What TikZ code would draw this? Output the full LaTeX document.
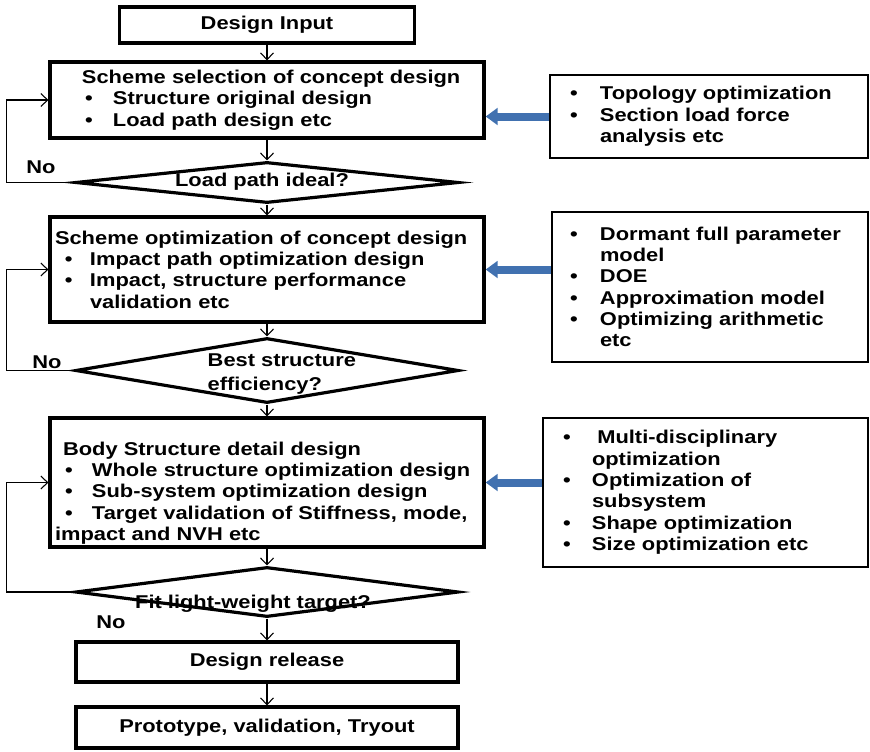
\documentclass[tikz,border=0pt]{standalone}
\usepackage{fontspec}
\setmainfont{Liberation Sans}[FakeStretch=1.18]
\usetikzlibrary{shapes.geometric,arrows.meta}

\definecolor{feedblue}{RGB}{65,113,176}
% bullet line: bullet indent, text indent, text
\newcommand{\bitem}[3]{\hspace*{#1}\makebox[\dimexpr#2-#1\relax][l]{\textbullet}#3}

\begin{document}
\begin{tikzpicture}[x=0.75pt,y=-0.75pt]
\tikzset{every node/.style={font=\fontsize{13.9}{16}\selectfont\bfseries}}
\tikzset{mainbox/.style={draw,line width=2.5pt,inner xsep=0pt,inner ysep=0pt,align=left}}
\tikzset{sidebox/.style={draw,line width=1.9pt,inner xsep=0pt,inner ysep=0pt,align=left}}
\tikzset{endbox/.style={draw,line width=2.5pt,align=center,text width=286.5pt,minimum height=30pt,inner sep=0pt}}
\tikzset{decide/.style={draw,shape=diamond,line width=2.4pt,minimum width=287.25pt,inner sep=0pt}}
\tikzset{flow/.style={line width=0.8pt,-{Straight Barb[length=5pt,width=9.75pt]}}}
\tikzset{feed/.style={feedblue,line width=6pt,-{Triangle[length=9pt,width=12.5pt]}}}
\useasboundingbox (0,0) rectangle (870,751);

% main column
\node[mainbox,text width=221.25pt,minimum height=27pt,align=center] (input) at (267,25) {Design Input};
\node[mainbox,text width=325.5pt,minimum height=57pt] (sel) at (267,100) {%
\hspace*{24pt}Scheme selection of concept design\\
\bitem{26.25pt}{47.25pt}{Structure original design}\\
\bitem{26.25pt}{47.25pt}{Load path design etc}};
\node[decide,minimum height=30.75pt] (d1) at (267,182.5) {};
\node (d1t) at (262,182) {Load path ideal?};
\node[mainbox,text width=325.5pt,minimum height=78.75pt] (opt) at (267,269.5) {%
\hspace*{3.75pt}Scheme optimization of concept design\\
\bitem{11.25pt}{30pt}{Impact path optimization design}\\
\bitem{11.25pt}{30pt}{Impact, structure performance}\\
\hspace*{30pt}validation etc};
\node[decide,minimum height=48.75pt] (d2) at (267,370.5) {};
\node[anchor=west,align=left] (d2t) at (203,374) {Best structure\\[2.5pt]efficiency?};
% taller first line pushes the text block down a little
\node[mainbox,text width=325.5pt,minimum height=96.75pt] (body) at (267,482.5) {%
\rule{0pt}{26pt}\hspace*{9.75pt}Body Structure detail design\\
\bitem{11.25pt}{31.5pt}{Whole structure optimization design}\\
\bitem{11.25pt}{31.5pt}{Sub-system optimization design}\\
\bitem{11.25pt}{31.5pt}{Target validation of Stiffness, mode,}\\
\hspace*{3.75pt}impact and NVH etc};
\node[decide,minimum height=37.5pt] (d3) at (267,592) {};
\node (d3t) at (253,604) {Fit light-weight target?};
\node[endbox] (release) at (267,662) {Design release};
\node[endbox,minimum height=30.75pt] (proto) at (267,727.5) {Prototype, validation, Tryout};

% method boxes
\node[sidebox,text width=238.5pt,minimum height=62.25pt] (topo) at (709,116.5) {%
\bitem{15pt}{37.5pt}{Topology optimization}\\
\bitem{15pt}{37.5pt}{Section load force}\\
\hspace*{37.5pt}analysis etc};
\node[sidebox,text width=237pt,minimum height=112.5pt] (doe) at (710,287) {%
\bitem{13.5pt}{36pt}{Dormant full parameter}\\
\hspace*{36pt}model\\
\bitem{13.5pt}{36pt}{DOE}\\
\bitem{13.5pt}{36pt}{Approximation model}\\
\bitem{13.5pt}{36pt}{Optimizing arithmetic}\\
\hspace*{36pt}etc};
\node[sidebox,text width=243.75pt,minimum height=111.75pt] (multi) at (705.5,492.5) {%
\bitem{15pt}{36.75pt}{\hspace{4pt}Multi-disciplinary}\\
\hspace*{36.75pt}optimization\\
\bitem{15pt}{36.75pt}{Optimization of}\\
\hspace*{36.75pt}subsystem\\
\bitem{15pt}{36.75pt}{Shape optimization}\\
\bitem{15pt}{36.75pt}{Size optimization etc}};

% flow
\draw[flow] (input) -- (sel);
\draw[flow] (sel) -- (d1);
\draw[flow] (d1) -- (opt);
\draw[flow] (opt) -- (d2);
\draw[flow] (d2) -- (body);
\draw[flow] (body) -- (d3);
\draw[flow] (d3) -- (release);
\draw[flow] (release) -- (proto);

% loops back
\draw[flow] (d1.west) -| ([xshift=-31.5pt]sel.west) -- (sel.west);
\draw[flow] (d2.west) -| ([xshift=-31.5pt]opt.west) -- (opt.west);
\draw[flow] (d3.west) -| ([xshift=-31.5pt]body.west) -- (body.west);
\node (no1) at (41,167) {No};
\node (no2) at (47,362) {No};
\node (no3) at (111,622) {No};

% inputs from the methods
\draw[feed] (topo.west) -- (topo.west -| sel.east);
\draw[feed] (doe.west |- opt.east) -- (opt.east);
\draw[feed] (multi.west |- body.east) -- (body.east);
\end{tikzpicture}
\end{document}
